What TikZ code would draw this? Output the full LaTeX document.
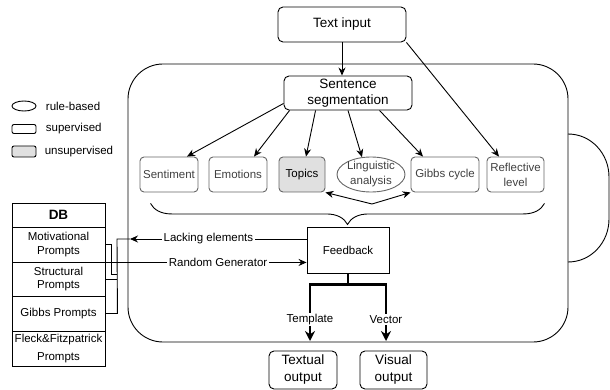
\documentclass[tikz,border=0pt]{standalone}
\usepackage{fontspec}
\setmainfont{Liberation Sans}
\usetikzlibrary{arrows.meta,calc,decorations.pathreplacing,shapes.geometric}

\tikzset{
  bigbox/.style={draw, rounded corners=5pt, inner sep=0pt, align=center, font=\fontsize{13.5}{17}\selectfont},
  task/.style={draw=black!60, rounded corners=4pt, inner sep=0pt, minimum height=35pt, align=center, text=black!75},
  dbrow/.style={draw, minimum width=93pt, inner sep=0pt, align=center},
  arr/.style={-{Stealth[length=8pt,width=7pt]}},
  fat/.style={line width=2.5pt, -{Stealth[length=10pt,width=10pt]}},
  lab/.style={fill=white, inner sep=1.5pt},
}

\begin{document}
\begin{tikzpicture}[x=1pt, y=-1pt, line width=0.9pt, font=\fontsize{11.5}{15}\selectfont]
        \useasboundingbox (0,0) rectangle (610,390);

        % Legend
        \node[draw, ellipse, minimum width=24pt, minimum height=10pt, inner sep=0pt] (lrule) at (24,106) {};
        \node[anchor=west, inner sep=0pt] (lrulet) at (45.5,106) {rule-based};
        \node[draw, rounded corners=2pt, minimum width=24pt, minimum height=9pt, inner sep=0pt] (lsup) at (24,129) {};
        \node[anchor=west, inner sep=0pt] (lsupt) at (45.5,129) {supervised};
        \node[draw, rounded corners=2pt, fill=black!12, minimum width=24pt, minimum height=11pt, inner sep=0pt] (luns) at (24,151.5) {};
        \node[anchor=west, inner sep=0pt] (lunst) at (44.3,151.5) {unsupervised};

        % Outer frame
        \draw[rounded corners=35pt] (128,64) rectangle (568,342);
        \draw (568,134) to[out=0, in=90] (609,177) -- (609,219) to[out=-90, in=0] (568,262);

        % Input and segmentation
        \node[bigbox, minimum width=128pt, minimum height=35pt] (txt) at (342,24.5) {Text input};
        \node[bigbox, minimum width=128pt, minimum height=34pt, font=\fontsize{13.5}{16}\selectfont] (seg) at (348,93) {Sentence\\segmentation};

        % Analysis modules
        \node[task, minimum width=58pt] (sent) at (169,174.5) {Sentiment};
        \node[task, minimum width=58pt] (emo) at (238,174.5) {Emotions};
        \node[task, minimum width=46pt, fill=black!12, text=black] (top) at (302,174.5) {Topics};
        \node[task, ellipse, rounded corners=0pt, minimum width=68pt] (ling) at (371,174.5) {};
        \node[align=center, text=black!75, inner sep=0pt] (lingt) at (ling) {Linguistic\\analysis};
        \node[task, minimum width=68pt] (gibbs) at (445,174.5) {Gibbs cycle};
        \node[task, minimum width=57pt] (refl) at (515.5,174.5) {Reflective\\level};

        % Feedback and outputs
        \node[draw, minimum width=82pt, minimum height=46pt] (fb) at (348,250) {Feedback};
        \node[bigbox, minimum width=68pt, minimum height=38pt] (tout) at (303,370) {Textual\\output};
        \node[bigbox, minimum width=67pt, minimum height=38pt] (vout) at (393.5,370) {Visual\\output};

        % Prompt database
        \node[dbrow, minimum height=24pt, font=\bfseries\fontsize{13.5}{16}\selectfont] (db) at (58.5,215) {DB};
        \node[dbrow, minimum height=35pt, font=\fontsize{11.5}{13.5}\selectfont] (mot) at (58.5,244.5) {Motivational\\Prompts};
        \node[dbrow, minimum height=34pt, font=\fontsize{11.5}{13.5}\selectfont] (str) at (58.5,279) {Structural\\Prompts};
        \node[dbrow, minimum height=35pt] (gib) at (58.5,313.5) {Gibbs Prompts};
        \node[dbrow, minimum height=35pt, font=\fontsize{11.5}{18}\selectfont] (fle) at (58.5,348.5) {Fleck\&Fitzpatrick\\Prompts};

        \coordinate (lack) at (130,239);
        \coordinate (bus) at (117,239);
        \coordinate (vtip) at (372,204);
        \coordinate (tend) at (310,341);
        \coordinate (vend) at (386,341);

        % Arrows from the input
        \draw[arr] (txt.south) -- (txt.south |- seg.north);
        \draw[arr] (txt.south east) -- ($(refl.north)+(-16.5,0)$);

        % Arrows from segmentation
        \draw[arr] ($(seg.south west)+(0,-7)$) -- ($(sent.north)+(18,0)$);
        \draw[arr] ($(seg.south west)+(6,0)$) -- ($(emo.north)+(16,0)$);
        \draw[arr] ($(seg.south west)+(32,0)$) -- ($(top.north)+(4,0)$);
        \draw[arr] (seg.south) -- ($(ling.north)+(-9,0.6)$);
        \draw[arr] ($(seg.south west)+(96,0)$) -- ($(gibbs.north)+(-22,0)$);

        % Topics <-> Gibbs cycle
        \draw[{Stealth[length=8pt,width=7pt]}-{Stealth[length=8pt,width=7pt]}] (top.south east) -- (vtip) -- (gibbs.south west);

        % Brace into feedback
        \draw[decorate, decoration={brace, mirror, amplitude=21pt}] ($(sent.south west)+(11,11)$) -- ($(refl.south east)+(0,11)$);

        % Feedback links to the database
        \draw[arr] ($(fb.west)+(0,-11)$) -- node[lab, pos=0.556] {Lacking elements} (lack);
        \draw[arr] (mot.south east) -- node[lab, pos=0.56] {Random Generator} (fb.west |- mot.south east);
        \draw (mot.east) -- ++(6,0) -- ++(0,29.5) -- ++(6,0);
        \draw (str.east) -- ++(12,0);
        \draw (gib.east) -- ++(12,0) -- (bus) -- (lack);

        % Outputs
        \draw[fat] (fb.south) -- ++(0,11) -| node[lab, pos=0.81] {Template} (tend);
        \draw[fat] (fb.south) -- ++(0,11) -| node[lab, pos=0.81] {Vector} (vend);
    \end{tikzpicture}
\end{document}
